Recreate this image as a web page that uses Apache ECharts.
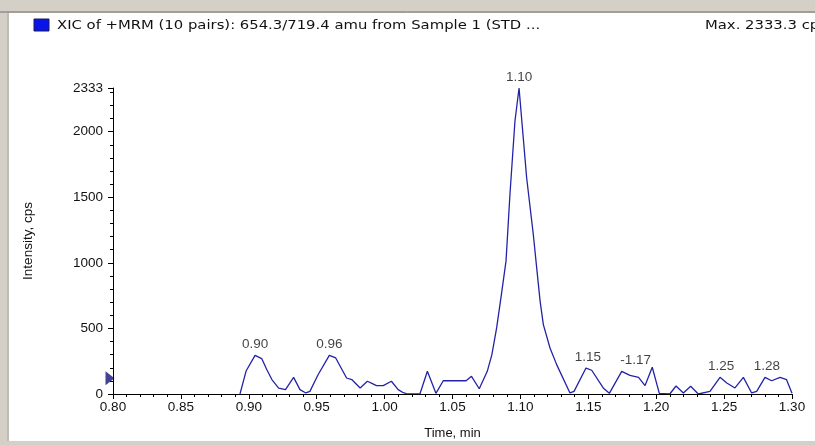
<!DOCTYPE html>
<html>
<head>
<meta charset="utf-8">
<script src="https://cdn.jsdelivr.net/npm/echarts@6/dist/echarts.min.js"></script>
<style>
  html, body { margin: 0; padding: 0; background: #d4d0c8; }
  #main { width: 815px; height: 445px; }
</style>
</head>
<body>
<div id="main"></div>
<script>
// XIC trace, time (min) and intensity (cps)
var times = [0.8935, 0.898, 0.9046, 0.9095, 0.9133, 0.917, 0.922, 0.927, 0.933,
  0.9377, 0.942, 0.945, 0.951, 0.9593, 0.964, 0.972, 0.9758, 0.982, 0.9873,
  0.991, 0.994, 0.999, 1.005, 1.010, 1.0138, 1.017, 1.026, 1.0315, 1.0378,
  1.0432, 1.060, 1.064, 1.0697, 1.0756, 1.079, 1.0825, 1.086, 1.0894, 1.0923,
  1.096, 1.099, 1.1021, 1.1046, 1.1095, 1.112, 1.1145, 1.1169, 1.1218, 1.1267,
  1.1365, 1.1395, 1.1483, 1.1525, 1.161, 1.1655, 1.1746, 1.1807, 1.187, 1.1918,
  1.1971, 1.2023, 1.210, 1.2146, 1.220, 1.2254, 1.231, 1.2396, 1.247, 1.252,
  1.258, 1.2642, 1.2703, 1.274, 1.2801, 1.285, 1.2912, 1.296, 1.300];
var intensity = [0, 175, 295, 270, 185, 110, 45, 33, 127,
  33, 8, 20, 147, 295, 275, 122, 110, 46, 97,
  79, 64, 64, 97, 33, 10, 0, 0, 173, 5,
  101, 101, 135, 40, 173, 300, 504, 758, 1013, 1521,
  2082, 2333, 1954, 1649, 1216, 962, 708, 529, 351, 224,
  8, 20, 198, 181, 46, 5, 173, 142, 127, 64,
  204, 5, 0, 61, 8, 59, 0, 20, 127, 84,
  46, 127, 8, 20, 127, 101, 127, 109, 5];

// peak annotations
var peakTimes = [0.9046, 0.9593, 1.099, 1.1483, 1.1746, 1.247, 1.2801];
var peakValues = [295, 295, 2333, 198, 173, 127, 127];
var peakLabels = ['0.90', '0.96', '1.10', '1.15', '-1.17', '1.25', '1.28'];
var peakShift = [0, 0, 0, 2, 14, 1, 2];

var yMax = 2333.3;

var lineColor = '#2323a8';
var font = 'Liberation Sans, Arial, sans-serif';
var titleFont = '13px DejaVu Sans, sans-serif';

var myChart = echarts.init(document.getElementById('main'));

var trace = times.map(function (t, i) { return [t, intensity[i]]; });
var peaks = peakTimes.map(function (t, i) {
  return {
    value: [t, peakValues[i]],
    label: { offset: [peakShift[i], 0] },
    name: peakLabels[i]
  };
});

var option = {
  animation: false,
  backgroundColor: '#d4d0c8',
  graphic: [
    { type: 'rect', shape: { x: 9, y: 13, width: 806, height: 428 },
      style: { fill: '#ffffff' }, z: -10 },
    { type: 'line', shape: { x1: 0, y1: 12, x2: 815, y2: 12 },
      style: { stroke: '#6e6c66', lineWidth: 1 }, z: -9 },
    { type: 'line', shape: { x1: 8, y1: 13, x2: 8, y2: 441 },
      style: { stroke: '#a9a7a0', lineWidth: 1 }, z: -9 },
    { type: 'rect', shape: { x: 34, y: 19, width: 15, height: 12 },
      style: { fill: '#0a14e6', stroke: '#1a1a60', lineWidth: 1 } },
    { type: 'text', x: 57, y: 26, scaleX: 1.14,
      style: { text: 'XIC of +MRM (10 pairs): 654.3/719.4 amu from Sample 1 (STD ...',
        font: titleFont, fill: '#111', verticalAlign: 'middle' } },
    { type: 'text', x: 705, y: 26, scaleX: 1.14,
      style: { text: 'Max. 2333.3 cps', font: titleFont, fill: '#111', verticalAlign: 'middle' } }
  ],
  grid: { left: 113, right: 23, top: 88, bottom: 49 },
  xAxis: {
    type: 'value',
    min: 0.8,
    max: 1.3,
    interval: 0.05,
    z: 5,
    name: 'Time, min',
    nameLocation: 'middle',
    nameGap: 33,
    nameTextStyle: { color: '#111', fontSize: 13, fontFamily: font },
    axisLine: { show: true, lineStyle: { color: '#000', width: 1 } },
    axisTick: { show: true, length: 5, lineStyle: { color: '#000' } },
    minorTick: { show: true, splitNumber: 5, length: 3, lineStyle: { color: '#000' } },
    splitLine: { show: false },
    axisLabel: {
      color: '#111', fontSize: 13.5, fontFamily: font, margin: 6,
      formatter: function (v) { return v.toFixed(2); }
    }
  },
  yAxis: {
    type: 'value',
    min: 0,
    max: yMax,
    interval: 500,
    z: 5,
    name: 'Intensity, cps',
    nameLocation: 'middle',
    nameGap: 78,
    nameTextStyle: { color: '#111', fontSize: 13.5, fontFamily: font },
    axisLine: { show: true, lineStyle: { color: '#000', width: 1 } },
    axisTick: { show: true, length: 5, lineStyle: { color: '#000' } },
    minorTick: { show: true, splitNumber: 5, length: 3, lineStyle: { color: '#000' } },
    splitLine: { show: false },
    axisLabel: {
      color: '#111', fontSize: 13.5, fontFamily: font, margin: 10,
      showMaxLabel: true,
      formatter: function (v) { return String(Math.round(v)); }
    }
  },
  series: [
    {
      type: 'line',
      data: trace,
      symbol: 'none',
      lineStyle: { color: lineColor, width: 1.3 },
      z: 3
    },
    {
      type: 'scatter',
      data: peaks,
      symbolSize: 0,
      itemStyle: { color: 'transparent' },
      label: {
        show: true, position: 'top', distance: 4,
        color: '#111', fontSize: 13.5, fontFamily: font,
        formatter: function (p) { return p.name; }
      },
      z: 4
    },
    {
      type: 'scatter',
      data: [[0.8, 120]],
      symbol: 'triangle',
      symbolRotate: -90,
      symbolSize: [14, 9],
      symbolOffset: [-3, 0],
      itemStyle: { color: '#141478' },
      z: 6
    }
  ]
};

myChart.setOption(option);
</script>
</body>
</html>
